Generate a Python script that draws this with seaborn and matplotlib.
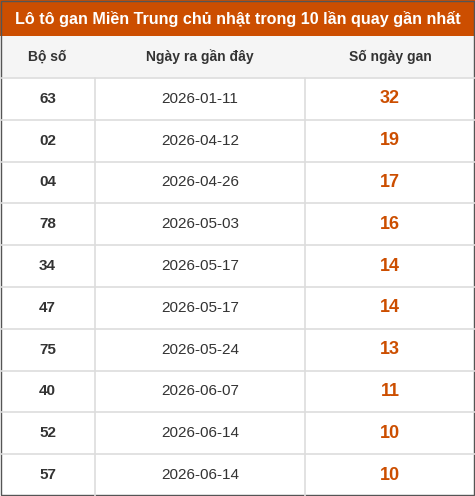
import seaborn as sns
import matplotlib.pyplot as plt
from matplotlib.patches import Rectangle

title = "Lô tô gan Miền Trung chủ nhật trong 10 lần quay gần nhất"
headers = ["Bộ số", "Ngày ra gần đây", "Số ngày gan"]
bo_so = ["63", "02", "04", "78", "34", "47", "75", "40", "52", "57"]
ngay_ra = ["2026-01-11", "2026-04-12", "2026-04-26", "2026-05-03", "2026-05-17",
           "2026-05-17", "2026-05-24", "2026-06-07", "2026-06-14", "2026-06-14"]
so_ngay_gan = [32, 19, 17, 16, 14, 14, 13, 11, 10, 10]

sns.set_theme(style="white")
plt.rcParams['font.family'] = ['Liberation Sans', 'DejaVu Sans']

W, H = 475, 496
fig = plt.figure(figsize=(W / 100, H / 100), dpi=100)
ax = fig.add_axes([0, 0, 1, 1])
ax.set_xlim(0, W)
ax.set_ylim(H, 0)
ax.axis("off")

orange = "#cc4e00"
line = "#dddddd"
col_edges = [0, 95, 305, W]
col_mid = [(col_edges[i] + col_edges[i + 1]) / 2 for i in range(3)]
title_h, head_top, head_bot = 36, 36, 78
row_h = (H - head_bot) / len(bo_so)

# title bar
ax.add_patch(Rectangle((0, 0), W, title_h, color=orange, lw=0))
ax.text(W / 2, title_h / 2 + 1, title, color="white", fontsize=11.6,
        fontweight="bold", ha="center", va="center")

# header
ax.add_patch(Rectangle((0, head_top), W, head_bot - head_top, color="#f5f5f5", lw=0))
for x, h in zip(col_mid, headers):
    ax.text(x, (head_top + head_bot) / 2, h, color="#333333", fontsize=10,
            fontweight="semibold", ha="center", va="center")

# rows
for i, (b, d, n) in enumerate(zip(bo_so, ngay_ra, so_ngay_gan)):
    y0 = head_bot + i * row_h
    yc = y0 + row_h / 2
    ax.plot([0, W], [y0, y0], color=line, lw=1.2)
    ax.text(col_mid[0], yc, b, color="#333333", fontsize=11, fontweight="bold",
            ha="center", va="center")
    ax.text(col_mid[1], yc, d, color="#333333", fontsize=11, ha="center", va="center")
    ax.text(col_mid[2], yc, str(n), color=orange, fontsize=13, fontweight="bold",
            ha="center", va="center")
for x in col_edges[1:-1]:
    ax.plot([x, x], [head_bot, H], color=line, lw=1.2)

# outer border
ax.add_patch(Rectangle((1, 1), W - 2, H - 2, fill=False, ec="#555555", lw=1))

fig.savefig("out.png", dpi=100)
